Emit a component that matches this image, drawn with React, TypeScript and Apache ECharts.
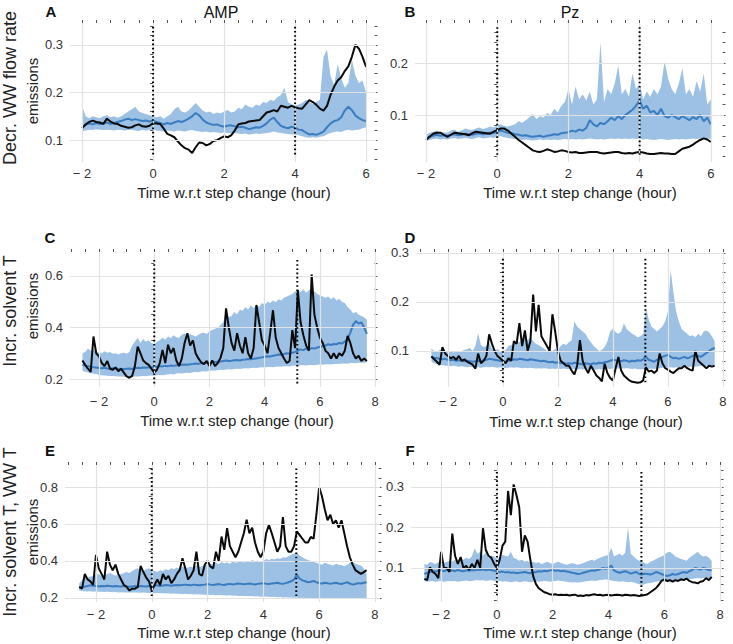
import React, { useEffect, useRef } from "react";
import * as echarts from "echarts";

// ---------- time grids (hours w.r.t. step change, 0.1 h sampling) ----------
const sampleTimes = (start: number, n: number) =>
  Array.from({ length: n }, (_, i) => +(start + i * 0.1).toFixed(1));
const T_AB = sampleTimes(-2.0, 81); // -2.0 .. 6.0
const T_CF = sampleTimes(-2.6, 104); // -2.6 .. 7.7

// ---------- tick labels ----------
const X_TICKS_AB = [-2, 0, 2, 4, 6];
const X_TICKS_CF = [-2, 0, 2, 4, 6, 8];
const Y_TICKS_A = [0.1, 0.2, 0.3];
const Y_TICKS_B = [0.1, 0.2];
const Y_TICKS_C = [0.2, 0.4, 0.6];
const Y_TICKS_D = [0.1, 0.2, 0.3];
const Y_TICKS_E = [0.2, 0.4, 0.6, 0.8];
const Y_TICKS_F = [0.1, 0.2, 0.3];

const COL_TITLES = ["AMP", "Pz"];
const ROW_TITLES = ["Decr. WW flow rate", "Incr. solvent T", "Incr. solvent T, WW T"];
const PANEL_LETTERS = ["A", "B", "C", "D", "E", "F"];
const X_TITLE = "Time w.r.t step change (hour)";
const Y_SUB = "emissions";

// ---------- Panel A (AMP, decr. WW flow rate) ----------
const A_BLACK = [
  0.125, 0.133, 0.138, 0.141, 0.138, 0.137, 0.134, 0.145, 0.139, 0.135,
  0.134, 0.130, 0.128, 0.126, 0.127, 0.131, 0.133, 0.129, 0.128, 0.130,
  0.136, 0.135, 0.134, 0.124, 0.113, 0.110, 0.106, 0.097, 0.089, 0.083,
  0.080, 0.073, 0.085, 0.095, 0.094, 0.089, 0.092, 0.098, 0.100, 0.104,
  0.108, 0.106, 0.110, 0.120, 0.133, 0.135, 0.136, 0.139, 0.140, 0.141,
  0.142, 0.150, 0.158, 0.160, 0.163, 0.160, 0.172, 0.170, 0.168, 0.172,
  0.169, 0.167, 0.166, 0.175, 0.184, 0.180, 0.174, 0.166, 0.162, 0.172,
  0.195, 0.212, 0.225, 0.232, 0.245, 0.255, 0.275, 0.300, 0.292, 0.275,
  0.254,
];
const A_MEAN = [
  0.128, 0.132, 0.135, 0.133, 0.136, 0.134, 0.135, 0.137, 0.134, 0.136,
  0.138, 0.140, 0.143, 0.145, 0.142, 0.144, 0.142, 0.140, 0.141, 0.139,
  0.141, 0.138, 0.136, 0.133, 0.136, 0.134, 0.137, 0.140, 0.138, 0.141,
  0.145, 0.150, 0.157, 0.152, 0.143, 0.137, 0.134, 0.132, 0.133, 0.130,
  0.128, 0.130, 0.131, 0.129, 0.127, 0.128, 0.126, 0.123, 0.125, 0.127,
  0.126, 0.130, 0.135, 0.143, 0.147, 0.138, 0.130, 0.127, 0.125, 0.128,
  0.126, 0.122, 0.121, 0.116, 0.112, 0.113, 0.111, 0.114, 0.118, 0.127,
  0.135, 0.140, 0.142, 0.148, 0.162, 0.170, 0.163, 0.152, 0.146, 0.142,
  0.140,
];
const A_UPPER = [
  0.172, 0.150, 0.146, 0.150, 0.148, 0.146, 0.150, 0.152, 0.148, 0.150,
  0.147, 0.150, 0.155, 0.160, 0.165, 0.170, 0.160, 0.157, 0.155, 0.152,
  0.150, 0.148, 0.150, 0.145, 0.150, 0.155, 0.165, 0.170, 0.160, 0.158,
  0.162, 0.170, 0.178, 0.170, 0.162, 0.158, 0.160, 0.155, 0.158, 0.156,
  0.160, 0.163, 0.158, 0.160, 0.168, 0.165, 0.175, 0.170, 0.168, 0.175,
  0.172, 0.180, 0.178, 0.185, 0.182, 0.190, 0.195, 0.210, 0.180, 0.176,
  0.172, 0.175, 0.178, 0.185, 0.180, 0.176, 0.180, 0.185, 0.275, 0.290,
  0.235, 0.215, 0.260, 0.230, 0.210, 0.220, 0.270, 0.235, 0.220, 0.225,
  0.200,
];
const A_LOWER = [
  0.118, 0.120, 0.122, 0.121, 0.123, 0.122, 0.121, 0.122, 0.121, 0.120,
  0.122, 0.121, 0.120, 0.121, 0.122, 0.120, 0.119, 0.121, 0.120, 0.121,
  0.122, 0.120, 0.119, 0.118, 0.120, 0.119, 0.118, 0.120, 0.119, 0.118,
  0.120, 0.121, 0.119, 0.118, 0.117, 0.118, 0.116, 0.117, 0.116, 0.115,
  0.116, 0.115, 0.114, 0.115, 0.114, 0.113, 0.114, 0.112, 0.113, 0.114,
  0.113, 0.114, 0.115, 0.116, 0.118, 0.116, 0.115, 0.114, 0.113, 0.112,
  0.112, 0.110, 0.108, 0.106, 0.105, 0.106, 0.105, 0.107, 0.108, 0.112,
  0.115, 0.117, 0.118, 0.117, 0.120, 0.122, 0.120, 0.121, 0.122, 0.125,
  0.127,
];

// ---------- Panel B (Pz, decr. WW flow rate) ----------
const B_BLACK = [
  0.052, 0.058, 0.064, 0.066, 0.066, 0.062, 0.058, 0.062, 0.066, 0.065,
  0.064, 0.063, 0.061, 0.065, 0.068, 0.067, 0.066, 0.065, 0.064, 0.068,
  0.071, 0.074, 0.074, 0.070, 0.064, 0.058, 0.052, 0.047, 0.042, 0.037,
  0.032, 0.030, 0.029, 0.031, 0.034, 0.032, 0.029, 0.030, 0.032, 0.031,
  0.029, 0.028, 0.029, 0.027, 0.027, 0.028, 0.029, 0.029, 0.029, 0.027,
  0.026, 0.027, 0.028, 0.029, 0.029, 0.027, 0.026, 0.027, 0.026, 0.028,
  0.029, 0.028, 0.026, 0.025, 0.025, 0.026, 0.027, 0.026, 0.026, 0.025,
  0.025, 0.030, 0.035, 0.037, 0.039, 0.043, 0.048, 0.052, 0.055, 0.053,
  0.048,
];
const B_MEAN = [
  0.055, 0.058, 0.060, 0.062, 0.060, 0.061, 0.060, 0.062, 0.063, 0.061,
  0.062, 0.064, 0.063, 0.062, 0.064, 0.065, 0.063, 0.064, 0.066, 0.065,
  0.068, 0.070, 0.068, 0.066, 0.065, 0.063, 0.062, 0.060, 0.061, 0.059,
  0.058, 0.059, 0.060, 0.058, 0.060, 0.061, 0.063, 0.062, 0.065, 0.066,
  0.067, 0.070, 0.068, 0.072, 0.070, 0.075, 0.090, 0.082, 0.078, 0.085,
  0.082, 0.088, 0.095, 0.090, 0.098, 0.092, 0.100, 0.105, 0.110, 0.118,
  0.128, 0.112, 0.118, 0.105, 0.108, 0.100, 0.112, 0.098, 0.095, 0.100,
  0.096, 0.092, 0.098, 0.094, 0.090, 0.096, 0.092, 0.100, 0.088, 0.095,
  0.082,
];
const B_UPPER = [
  0.062, 0.066, 0.068, 0.070, 0.066, 0.067, 0.066, 0.070, 0.072, 0.068,
  0.070, 0.074, 0.072, 0.071, 0.074, 0.076, 0.073, 0.075, 0.078, 0.076,
  0.080, 0.082, 0.079, 0.078, 0.080, 0.082, 0.088, 0.085, 0.090, 0.095,
  0.102, 0.092, 0.098, 0.095, 0.104, 0.100, 0.112, 0.105, 0.118, 0.125,
  0.150, 0.120, 0.155, 0.130, 0.140, 0.128, 0.145, 0.120, 0.130, 0.240,
  0.125, 0.150, 0.140, 0.160, 0.195, 0.140, 0.150, 0.135, 0.180, 0.150,
  0.160, 0.130, 0.145, 0.135, 0.150, 0.140, 0.155, 0.203, 0.170, 0.150,
  0.140, 0.160, 0.190, 0.140, 0.150, 0.135, 0.165, 0.145, 0.180, 0.120,
  0.130,
];
const B_LOWER = [
  0.050, 0.052, 0.054, 0.055, 0.053, 0.054, 0.053, 0.055, 0.056, 0.054,
  0.055, 0.056, 0.055, 0.054, 0.056, 0.057, 0.055, 0.056, 0.057, 0.056,
  0.058, 0.059, 0.057, 0.056, 0.055, 0.054, 0.053, 0.052, 0.053, 0.052,
  0.051, 0.052, 0.053, 0.052, 0.053, 0.052, 0.053, 0.052, 0.053, 0.054,
  0.053, 0.054, 0.053, 0.054, 0.053, 0.054, 0.055, 0.054, 0.053, 0.054,
  0.053, 0.054, 0.055, 0.054, 0.055, 0.054, 0.055, 0.054, 0.055, 0.054,
  0.055, 0.053, 0.054, 0.053, 0.052, 0.053, 0.054, 0.053, 0.052, 0.053,
  0.054, 0.053, 0.054, 0.053, 0.054, 0.055, 0.054, 0.055, 0.054, 0.055,
  0.054,
];

// ---------- Panel C (AMP, incr. solvent T) ----------
const C_BLACK = [
  0.272, 0.255, 0.240, 0.228, 0.365, 0.300, 0.288, 0.262, 0.250, 0.270,
  0.240, 0.236, 0.245, 0.230, 0.240, 0.225, 0.210, 0.205, 0.212, 0.250,
  0.326, 0.300, 0.272, 0.262, 0.255, 0.240, 0.225, 0.236, 0.262, 0.313,
  0.262, 0.333, 0.300, 0.320, 0.272, 0.250, 0.280, 0.340, 0.378, 0.330,
  0.350, 0.300, 0.280, 0.265, 0.258, 0.270, 0.250, 0.272, 0.250, 0.262,
  0.282, 0.320, 0.474, 0.400, 0.340, 0.310, 0.378, 0.330, 0.300, 0.362,
  0.300, 0.280, 0.320, 0.487, 0.420, 0.350, 0.330, 0.300, 0.380, 0.467,
  0.360, 0.320, 0.300, 0.280, 0.262, 0.270, 0.390, 0.320, 0.545, 0.420,
  0.370, 0.330, 0.310, 0.606, 0.450, 0.400, 0.360, 0.340, 0.310, 0.300,
  0.280, 0.300, 0.280, 0.300, 0.290, 0.310, 0.367, 0.340, 0.300, 0.280,
  0.290, 0.270, 0.280, 0.270,
];
const C_MEAN = [
  0.255, 0.252, 0.250, 0.248, 0.246, 0.245, 0.243, 0.242, 0.244, 0.241,
  0.240, 0.242, 0.241, 0.239, 0.240, 0.238, 0.240, 0.241, 0.239, 0.242,
  0.244, 0.243, 0.245, 0.244, 0.246, 0.245, 0.247, 0.248, 0.250, 0.249,
  0.251, 0.250, 0.252, 0.251, 0.253, 0.254, 0.255, 0.256, 0.255, 0.257,
  0.258, 0.260, 0.259, 0.261, 0.262, 0.264, 0.263, 0.265, 0.266, 0.267,
  0.268, 0.270, 0.272, 0.270, 0.271, 0.273, 0.274, 0.272, 0.275, 0.276,
  0.278, 0.277, 0.279, 0.280, 0.282, 0.284, 0.286, 0.288, 0.287, 0.290,
  0.292, 0.295, 0.293, 0.297, 0.300, 0.298, 0.302, 0.305, 0.310, 0.315,
  0.312, 0.318, 0.315, 0.320, 0.318, 0.322, 0.325, 0.328, 0.330, 0.335,
  0.332, 0.336, 0.335, 0.340, 0.338, 0.345, 0.355, 0.380, 0.410, 0.425,
  0.415, 0.420, 0.400, 0.375,
];
const C_UPPER = [
  0.300, 0.305, 0.318, 0.310, 0.315, 0.302, 0.305, 0.300, 0.308, 0.302,
  0.305, 0.298, 0.300, 0.295, 0.300, 0.302, 0.298, 0.305, 0.330, 0.345,
  0.360, 0.340, 0.355, 0.345, 0.350, 0.340, 0.335, 0.345, 0.350, 0.360,
  0.352, 0.365, 0.358, 0.370, 0.362, 0.360, 0.372, 0.378, 0.368, 0.375,
  0.370, 0.365, 0.372, 0.378, 0.380, 0.375, 0.385, 0.390, 0.395, 0.400,
  0.410, 0.420, 0.470, 0.440, 0.445, 0.460, 0.450, 0.470, 0.465, 0.480,
  0.470, 0.485, 0.475, 0.490, 0.480, 0.495, 0.488, 0.500, 0.495, 0.505,
  0.498, 0.510, 0.505, 0.515, 0.520, 0.525, 0.530, 0.540, 0.545, 0.538,
  0.548, 0.535, 0.545, 0.550, 0.540, 0.530, 0.525, 0.520, 0.515, 0.520,
  0.510, 0.518, 0.505, 0.512, 0.500, 0.495, 0.480, 0.470, 0.455, 0.460,
  0.450, 0.445, 0.440, 0.430,
];
const C_LOWER = [
  0.232, 0.228, 0.225, 0.222, 0.220, 0.219, 0.216, 0.215, 0.214, 0.213,
  0.212, 0.212, 0.211, 0.210, 0.210, 0.209, 0.208, 0.208, 0.209, 0.210,
  0.210, 0.211, 0.212, 0.211, 0.213, 0.214, 0.213, 0.215, 0.216, 0.215,
  0.217, 0.218, 0.219, 0.218, 0.221, 0.222, 0.221, 0.223, 0.224, 0.223,
  0.226, 0.227, 0.226, 0.229, 0.230, 0.229, 0.232, 0.233, 0.232, 0.235,
  0.236, 0.235, 0.237, 0.238, 0.237, 0.239, 0.240, 0.239, 0.241, 0.242,
  0.241, 0.243, 0.244, 0.243, 0.245, 0.246, 0.245, 0.247, 0.247, 0.246,
  0.248, 0.249, 0.248, 0.250, 0.250, 0.249, 0.251, 0.252, 0.251, 0.253,
  0.253, 0.252, 0.254, 0.254, 0.253, 0.255, 0.256, 0.255, 0.257, 0.257,
  0.256, 0.258, 0.259, 0.258, 0.260, 0.260, 0.259, 0.262, 0.262, 0.261,
  0.263, 0.264, 0.263, 0.265,
];

// ---------- Panel D (Pz, incr. solvent T) ----------
const D_BLACK = [
  0.089, 0.083, 0.078, 0.072, 0.108, 0.095, 0.090, 0.085, 0.088, 0.082,
  0.090, 0.080, 0.083, 0.078, 0.075, 0.072, 0.064, 0.095, 0.075, 0.080,
  0.090, 0.134, 0.115, 0.100, 0.090, 0.085, 0.080, 0.075, 0.085, 0.080,
  0.120, 0.115, 0.157, 0.110, 0.142, 0.100, 0.120, 0.215, 0.140, 0.194,
  0.130, 0.120, 0.110, 0.100, 0.175, 0.140, 0.100, 0.080, 0.075, 0.070,
  0.070, 0.060, 0.052, 0.070, 0.122, 0.080, 0.065, 0.055, 0.070, 0.060,
  0.050, 0.045, 0.038, 0.074, 0.055, 0.045, 0.040, 0.065, 0.088, 0.060,
  0.050, 0.045, 0.040, 0.037, 0.036, 0.035, 0.036, 0.040, 0.067, 0.058,
  0.060, 0.055, 0.060, 0.095, 0.075, 0.065, 0.062, 0.058, 0.055, 0.060,
  0.065, 0.065, 0.070, 0.065, 0.062, 0.060, 0.100, 0.080, 0.075, 0.070,
  0.065, 0.070, 0.068, 0.070,
];
const D_MEAN = [
  0.088, 0.086, 0.085, 0.084, 0.083, 0.084, 0.082, 0.081, 0.082, 0.080,
  0.081, 0.080, 0.079, 0.080, 0.079, 0.078, 0.079, 0.080, 0.079, 0.081,
  0.082, 0.084, 0.083, 0.082, 0.081, 0.080, 0.079, 0.078, 0.080, 0.081,
  0.083, 0.082, 0.084, 0.083, 0.082, 0.081, 0.083, 0.082, 0.081, 0.080,
  0.079, 0.080, 0.078, 0.077, 0.078, 0.076, 0.077, 0.075, 0.076, 0.074,
  0.075, 0.074, 0.076, 0.075, 0.074, 0.073, 0.075, 0.074, 0.073, 0.075,
  0.074, 0.076, 0.075, 0.077, 0.078, 0.080, 0.082, 0.081, 0.080, 0.079,
  0.081, 0.080, 0.078, 0.080, 0.079, 0.081, 0.080, 0.083, 0.088, 0.082,
  0.080, 0.078, 0.082, 0.085, 0.088, 0.090, 0.092, 0.088, 0.085, 0.086,
  0.084, 0.086, 0.088, 0.085, 0.087, 0.090, 0.092, 0.090, 0.088, 0.092,
  0.096, 0.100, 0.104, 0.106,
];
const D_UPPER = [
  0.105, 0.100, 0.098, 0.102, 0.105, 0.100, 0.098, 0.100, 0.097, 0.100,
  0.098, 0.100, 0.102, 0.104, 0.106, 0.100, 0.110, 0.136, 0.112, 0.108,
  0.110, 0.118, 0.105, 0.100, 0.104, 0.100, 0.098, 0.102, 0.110, 0.112,
  0.115, 0.120, 0.118, 0.125, 0.130, 0.122, 0.128, 0.120, 0.115, 0.112,
  0.108, 0.105, 0.100, 0.102, 0.100, 0.104, 0.102, 0.110, 0.115, 0.112,
  0.118, 0.122, 0.160, 0.150, 0.145, 0.140, 0.135, 0.125, 0.118, 0.110,
  0.105, 0.100, 0.102, 0.108, 0.120, 0.140, 0.146, 0.138, 0.135, 0.140,
  0.156, 0.145, 0.140, 0.135, 0.132, 0.128, 0.130, 0.135, 0.190, 0.165,
  0.150, 0.145, 0.140, 0.145, 0.150, 0.160, 0.180, 0.265, 0.220, 0.180,
  0.160, 0.145, 0.140, 0.135, 0.130, 0.132, 0.128, 0.135, 0.130, 0.140,
  0.142, 0.138, 0.130, 0.120,
];
const D_LOWER = [
  0.078, 0.075, 0.073, 0.072, 0.071, 0.070, 0.070, 0.069, 0.070, 0.069,
  0.068, 0.069, 0.068, 0.067, 0.068, 0.067, 0.066, 0.067, 0.066, 0.067,
  0.068, 0.067, 0.068, 0.067, 0.066, 0.067, 0.066, 0.065, 0.066, 0.067,
  0.066, 0.067, 0.066, 0.065, 0.066, 0.065, 0.066, 0.065, 0.064, 0.065,
  0.064, 0.065, 0.064, 0.063, 0.064, 0.063, 0.064, 0.063, 0.064, 0.063,
  0.063, 0.064, 0.063, 0.062, 0.063, 0.062, 0.063, 0.062, 0.063, 0.062,
  0.062, 0.063, 0.062, 0.063, 0.064, 0.063, 0.064, 0.065, 0.064, 0.065,
  0.064, 0.065, 0.064, 0.063, 0.064, 0.063, 0.062, 0.063, 0.064, 0.063,
  0.064, 0.063, 0.064, 0.065, 0.066, 0.067, 0.066, 0.067, 0.066, 0.067,
  0.066, 0.067, 0.068, 0.067, 0.068, 0.069, 0.068, 0.069, 0.070, 0.069,
  0.070, 0.069, 0.070, 0.071,
];

// ---------- Panel E (AMP, incr. solvent T, WW T) ----------
const E_BLACK = [
  0.260, 0.250, 0.330, 0.300, 0.290, 0.270, 0.433, 0.360, 0.330, 0.300,
  0.450, 0.380, 0.350, 0.380, 0.330, 0.300, 0.270, 0.260, 0.240, 0.250,
  0.250, 0.260, 0.373, 0.340, 0.310, 0.290, 0.240, 0.270, 0.300, 0.270,
  0.330, 0.300, 0.320, 0.280, 0.300, 0.330, 0.350, 0.415, 0.360, 0.300,
  0.320, 0.350, 0.450, 0.330, 0.320, 0.380, 0.400, 0.370, 0.360, 0.450,
  0.400, 0.532, 0.460, 0.578, 0.480, 0.450, 0.420, 0.450, 0.500, 0.550,
  0.623, 0.550, 0.580, 0.500, 0.450, 0.420, 0.450, 0.550, 0.595, 0.550,
  0.500, 0.450, 0.480, 0.637, 0.480, 0.450, 0.450, 0.480, 0.560, 0.540,
  0.520, 0.500, 0.500, 0.530, 0.520, 0.650, 0.800, 0.750, 0.680, 0.620,
  0.650, 0.600, 0.620, 0.580, 0.620, 0.550, 0.480, 0.420, 0.380, 0.350,
  0.340, 0.330, 0.340, 0.350,
];
const E_MEAN = [
  0.255, 0.258, 0.262, 0.265, 0.268, 0.266, 0.264, 0.262, 0.265, 0.263,
  0.266, 0.264, 0.262, 0.265, 0.263, 0.262, 0.264, 0.262, 0.260, 0.262,
  0.264, 0.262, 0.265, 0.263, 0.262, 0.264, 0.263, 0.266, 0.268, 0.265,
  0.267, 0.270, 0.268, 0.266, 0.268, 0.270, 0.268, 0.270, 0.272, 0.270,
  0.268, 0.272, 0.270, 0.268, 0.270, 0.272, 0.275, 0.272, 0.270, 0.273,
  0.275, 0.272, 0.270, 0.274, 0.276, 0.273, 0.275, 0.278, 0.276, 0.274,
  0.276, 0.278, 0.275, 0.273, 0.276, 0.278, 0.280, 0.277, 0.275, 0.278,
  0.280, 0.282, 0.278, 0.276, 0.280, 0.285, 0.290, 0.300, 0.325, 0.305,
  0.295, 0.290, 0.285, 0.288, 0.292, 0.285, 0.280, 0.278, 0.282, 0.280,
  0.276, 0.280, 0.282, 0.278, 0.275, 0.280, 0.285, 0.278, 0.272, 0.275,
  0.280, 0.278, 0.282, 0.285,
];
const E_UPPER = [
  0.280, 0.295, 0.320, 0.310, 0.315, 0.320, 0.325, 0.330, 0.318, 0.322,
  0.330, 0.335, 0.328, 0.320, 0.325, 0.330, 0.335, 0.340, 0.335, 0.345,
  0.355, 0.360, 0.350, 0.345, 0.355, 0.360, 0.350, 0.345, 0.340, 0.350,
  0.345, 0.355, 0.350, 0.360, 0.355, 0.365, 0.358, 0.370, 0.360, 0.365,
  0.370, 0.362, 0.375, 0.368, 0.372, 0.380, 0.375, 0.385, 0.378, 0.390,
  0.382, 0.395, 0.388, 0.392, 0.385, 0.398, 0.390, 0.395, 0.400, 0.392,
  0.400, 0.395, 0.405, 0.398, 0.402, 0.395, 0.400, 0.410, 0.405, 0.412,
  0.408, 0.415, 0.410, 0.420, 0.418, 0.425, 0.435, 0.440, 0.445, 0.430,
  0.420, 0.410, 0.405, 0.400, 0.395, 0.390, 0.385, 0.380, 0.390, 0.385,
  0.380, 0.375, 0.385, 0.380, 0.378, 0.372, 0.380, 0.390, 0.395, 0.385,
  0.380, 0.375, 0.360, 0.330,
];
const E_LOWER = [
  0.240, 0.238, 0.236, 0.235, 0.236, 0.234, 0.235, 0.233, 0.234, 0.232,
  0.233, 0.232, 0.231, 0.232, 0.230, 0.231, 0.230, 0.229, 0.230, 0.229,
  0.230, 0.229, 0.228, 0.229, 0.228, 0.227, 0.228, 0.226, 0.227, 0.225,
  0.226, 0.224, 0.225, 0.223, 0.224, 0.222, 0.223, 0.221, 0.222, 0.220,
  0.221, 0.219, 0.220, 0.218, 0.219, 0.217, 0.218, 0.216, 0.217, 0.215,
  0.216, 0.214, 0.215, 0.213, 0.214, 0.212, 0.213, 0.211, 0.212, 0.210,
  0.211, 0.209, 0.210, 0.208, 0.209, 0.207, 0.208, 0.206, 0.207, 0.205,
  0.206, 0.204, 0.205, 0.203, 0.204, 0.202, 0.203, 0.201, 0.202, 0.200,
  0.201, 0.199, 0.200, 0.198, 0.199, 0.198, 0.199, 0.197, 0.198, 0.197,
  0.198, 0.196, 0.197, 0.196, 0.197, 0.195, 0.196, 0.195, 0.196, 0.195,
  0.196, 0.195, 0.196, 0.197,
];

// ---------- Panel F (Pz, incr. solvent T, WW T) ----------
const F_BLACK = [
  0.073, 0.070, 0.102, 0.090, 0.085, 0.075, 0.140, 0.100, 0.100, 0.090,
  0.185, 0.130, 0.110, 0.127, 0.100, 0.105, 0.095, 0.110, 0.100, 0.120,
  0.100, 0.198, 0.145, 0.130, 0.125, 0.110, 0.100, 0.120, 0.155, 0.165,
  0.290, 0.230, 0.306, 0.280, 0.250, 0.140, 0.180, 0.165, 0.120, 0.080,
  0.060, 0.050, 0.045, 0.040, 0.038, 0.035, 0.034, 0.035, 0.033, 0.034,
  0.033, 0.034, 0.032, 0.033, 0.034, 0.031, 0.032, 0.031, 0.033, 0.032,
  0.034, 0.035, 0.033, 0.034, 0.032, 0.033, 0.034, 0.032, 0.033, 0.034,
  0.033, 0.032, 0.034, 0.033, 0.032, 0.033, 0.032, 0.031, 0.032, 0.033,
  0.035, 0.040, 0.045, 0.050, 0.058, 0.068, 0.072, 0.068, 0.070, 0.066,
  0.070, 0.068, 0.072, 0.070, 0.074, 0.068, 0.065, 0.064, 0.062, 0.066,
  0.068, 0.075, 0.070, 0.078,
];
const F_MEAN = [
  0.085, 0.088, 0.090, 0.092, 0.091, 0.093, 0.094, 0.092, 0.095, 0.093,
  0.094, 0.092, 0.095, 0.093, 0.092, 0.094, 0.093, 0.095, 0.094, 0.096,
  0.095, 0.097, 0.094, 0.096, 0.095, 0.093, 0.092, 0.090, 0.091, 0.089,
  0.090, 0.088, 0.089, 0.087, 0.088, 0.089, 0.090, 0.088, 0.087, 0.089,
  0.090, 0.092, 0.091, 0.093, 0.092, 0.094, 0.095, 0.093, 0.094, 0.092,
  0.093, 0.091, 0.090, 0.088, 0.087, 0.085, 0.086, 0.088, 0.090, 0.092,
  0.094, 0.093, 0.095, 0.097, 0.100, 0.098, 0.100, 0.106, 0.094, 0.090,
  0.088, 0.090, 0.092, 0.089, 0.086, 0.088, 0.090, 0.085, 0.084, 0.086,
  0.085, 0.084, 0.086, 0.090, 0.088, 0.085, 0.082, 0.080, 0.082, 0.085,
  0.083, 0.085, 0.088, 0.090, 0.088, 0.092, 0.095, 0.100, 0.098, 0.096,
  0.100, 0.098, 0.095, 0.094,
];
const F_UPPER = [
  0.110, 0.108, 0.115, 0.112, 0.110, 0.114, 0.118, 0.112, 0.115, 0.118,
  0.115, 0.120, 0.118, 0.122, 0.120, 0.125, 0.122, 0.128, 0.148, 0.135,
  0.140, 0.130, 0.138, 0.125, 0.130, 0.128, 0.122, 0.125, 0.132, 0.130,
  0.128, 0.140, 0.125, 0.122, 0.118, 0.120, 0.115, 0.118, 0.112, 0.115,
  0.112, 0.114, 0.110, 0.112, 0.115, 0.112, 0.110, 0.113, 0.115, 0.112,
  0.110, 0.108, 0.110, 0.112, 0.110, 0.108, 0.110, 0.112, 0.115, 0.118,
  0.120, 0.118, 0.122, 0.125, 0.128, 0.130, 0.132, 0.150, 0.128, 0.132,
  0.135, 0.130, 0.138, 0.200, 0.135, 0.128, 0.122, 0.118, 0.115, 0.112,
  0.110, 0.115, 0.118, 0.122, 0.125, 0.128, 0.132, 0.138, 0.140, 0.135,
  0.128, 0.125, 0.122, 0.120, 0.118, 0.125, 0.130, 0.135, 0.140, 0.132,
  0.128, 0.130, 0.125, 0.118,
];
const F_LOWER = [
  0.068, 0.066, 0.067, 0.068, 0.066, 0.067, 0.068, 0.066, 0.067, 0.068,
  0.067, 0.068, 0.066, 0.067, 0.068, 0.069, 0.067, 0.068, 0.069, 0.070,
  0.069, 0.070, 0.068, 0.069, 0.070, 0.068, 0.067, 0.068, 0.066, 0.067,
  0.066, 0.065, 0.066, 0.067, 0.065, 0.066, 0.067, 0.066, 0.065, 0.066,
  0.067, 0.066, 0.067, 0.068, 0.067, 0.066, 0.067, 0.068, 0.069, 0.068,
  0.067, 0.066, 0.065, 0.064, 0.065, 0.064, 0.065, 0.066, 0.067, 0.068,
  0.069, 0.068, 0.069, 0.070, 0.071, 0.072, 0.070, 0.069, 0.068, 0.067,
  0.066, 0.067, 0.066, 0.065, 0.066, 0.064, 0.062, 0.060, 0.058, 0.060,
  0.062, 0.063, 0.064, 0.066, 0.067, 0.068, 0.066, 0.065, 0.066, 0.067,
  0.068, 0.069, 0.068, 0.070, 0.071, 0.072, 0.073, 0.074, 0.075, 0.074,
  0.075, 0.076, 0.075, 0.074,
];

// ---------- styling / layout ----------
const FONT = "'Liberation Sans', Arial, Helvetica, sans-serif";
const BAND_COLOR = "#9cc1e5";
const MEAN_COLOR = "#3a7cc0";
const GRID_COLOR = "#e2e2e2";
const TICK_COLOR = "#555";

const tickRange = (a: number, b: number, s: number) => {
  const out: number[] = [];
  for (let v = a; v <= b + 1e-9; v += s) out.push(+v.toFixed(3));
  return out;
};

type Panel = {
  t: number[];
  black: number[];
  mean: number[];
  upper: number[];
  lower: number[];
  left: number;
  top: number;
  width: number;
  height: number;
  xMin: number;
  xMax: number;
  yMin: number;
  yMax: number;
  xTicks: number[];
  xMinor: number[];
  yTicks: number[];
  yMinor: number[];
  vlines: number[];
  vTop: number;
  vBot: number;
  labelMargin: number;
};

const PANELS: Panel[] = [
  {
    t: T_AB, black: A_BLACK, mean: A_MEAN, upper: A_UPPER, lower: A_LOWER,
    left: 70, top: 23, width: 306, height: 139,
    xMin: -2.34, xMax: 6.28, yMin: 0.054, yMax: 0.346,
    xTicks: X_TICKS_AB, xMinor: tickRange(-2, 6, 0.4),
    yTicks: Y_TICKS_A, yMinor: tickRange(0.06, 0.34, 0.02),
    vlines: [0, 4], vTop: 0.338, vBot: 0.066, labelMargin: 5,
  },
  {
    t: T_AB, black: B_BLACK, mean: B_MEAN, upper: B_UPPER, lower: B_LOWER,
    left: 415, top: 23, width: 309, height: 139,
    xMin: -2.31, xMax: 6.37, yMin: 0.0096, yMax: 0.277,
    xTicks: X_TICKS_AB, xMinor: tickRange(-2, 6, 0.4),
    yTicks: Y_TICKS_B, yMinor: tickRange(0.02, 0.26, 0.02),
    vlines: [0, 4], vTop: 0.269, vBot: 0.021, labelMargin: 5,
  },
  {
    t: T_CF, black: C_BLACK, mean: C_MEAN, upper: C_UPPER, lower: C_LOWER,
    left: 70, top: 252, width: 306, height: 135,
    xMin: -3.05, xMax: 8.03, yMin: 0.169, yMax: 0.693,
    xTicks: X_TICKS_CF, xMinor: tickRange(-3, 8, 0.5),
    yTicks: Y_TICKS_C, yMinor: tickRange(0.2, 0.65, 0.05),
    vlines: [0, 5.18], vTop: 0.662, vBot: 0.18, labelMargin: 8,
  },
  {
    t: T_CF, black: D_BLACK, mean: D_MEAN, upper: D_UPPER, lower: D_LOWER,
    left: 416, top: 252, width: 308, height: 135,
    xMin: -3.16, xMax: 8.04, yMin: 0.0265, yMax: 0.302,
    xTicks: X_TICKS_CF, xMinor: tickRange(-3, 8, 0.5),
    yTicks: Y_TICKS_D, yMinor: tickRange(0.04, 0.3, 0.02),
    vlines: [0, 5.18], vTop: 0.288, vBot: 0.035, labelMargin: 8,
  },
  {
    t: T_CF, black: E_BLACK, mean: E_MEAN, upper: E_UPPER, lower: E_LOWER,
    left: 65, top: 465, width: 315, height: 137,
    xMin: -3.11, xMax: 8.18, yMin: 0.178, yMax: 0.919,
    xTicks: X_TICKS_CF, xMinor: tickRange(-3, 8, 0.5),
    yTicks: Y_TICKS_E, yMinor: tickRange(0.2, 0.9, 0.05),
    vlines: [0, 5.18], vTop: 0.9, vBot: 0.205, labelMargin: 6,
  },
  {
    t: T_CF, black: F_BLACK, mean: F_MEAN, upper: F_UPPER, lower: F_LOWER,
    left: 411, top: 465, width: 311, height: 137,
    xMin: -3.08, xMax: 8.07, yMin: 0.016, yMax: 0.354,
    xTicks: X_TICKS_CF, xMinor: tickRange(-3, 8, 0.5),
    yTicks: Y_TICKS_F, yMinor: tickRange(0.02, 0.34, 0.02),
    vlines: [0, 5.18], vTop: 0.337, vBot: 0.028, labelMargin: 6,
  },
];

const LETTER_POS = [[51, 11], [410, 11], [50, 237], [410, 237], [50, 450], [410, 450]];
const COL_TITLE_POS = [[221, 12], [570, 12]];
const ROW_TITLE_POS = [[10, 88], [10, 311], [10, 532]];
const ROW_SUB_POS = [[32, 91], [32, 306], [32, 532]];
const X_TITLE_POS = [[234, 192], [580, 192], [237, 420], [586, 421], [234, 632], [580, 632]];

const fmtX = (v: number) => (v < 0 ? "\u2212 " + Math.abs(v) : String(v));
const fmtY = (v: number) => v.toFixed(1);

function bandRenderItem(params: any, api: any) {
  if (params.dataIndexInside !== 0) return null;
  const n = params.dataInsideLength;
  const top: number[][] = [];
  const bot: number[][] = [];
  for (let j = 0; j < n; j++) {
    const t = api.value(0, j);
    top.push(api.coord([t, api.value(2, j)]));
    bot.push(api.coord([t, api.value(1, j)]));
  }
  return {
    type: "polygon",
    silent: true,
    shape: { points: top.concat(bot.reverse()) },
    style: { fill: BAND_COLOR, stroke: null },
  };
}

function buildOption() {
  const grid: any[] = [];
  const xAxis: any[] = [];
  const yAxis: any[] = [];
  const series: any[] = [];

  PANELS.forEach((p, i) => {
    grid.push({ left: p.left, top: p.top, width: p.width, height: p.height, containLabel: false });
    // bottom main axis: labels
    xAxis.push({
      type: "value", gridIndex: i, position: "bottom", min: p.xMin, max: p.xMax,
      axisLine: { show: false },
      axisTick: { show: false, customValues: p.xTicks },
      axisLabel: {
        customValues: p.xTicks, formatter: fmtX, margin: p.labelMargin,
        fontSize: 13, color: "#333", fontFamily: FONT,
      },
      splitLine: { show: false },
    });
    // top minor ticks
    xAxis.push({
      type: "value", gridIndex: i, position: "top", min: p.xMin, max: p.xMax,
      axisLine: { show: false },
      axisTick: { show: true, customValues: p.xMinor, length: 3, lineStyle: { color: TICK_COLOR, width: 1 } },
      axisLabel: { show: false },
      splitLine: { show: false },
    });
    // left main axis: labels
    yAxis.push({
      type: "value", gridIndex: i, position: "left", min: p.yMin, max: p.yMax,
      axisLine: { show: false },
      axisTick: { show: false, customValues: p.yTicks },
      axisLabel: {
        customValues: p.yTicks, formatter: fmtY, margin: 7,
        fontSize: 13, color: "#333", fontFamily: FONT,
      },
      splitLine: { show: false },
    });
    // left minor ticks
    yAxis.push({
      type: "value", gridIndex: i, position: "left", offset: -1.5, min: p.yMin, max: p.yMax,
      axisLine: { show: false },
      axisTick: { show: true, customValues: p.yMinor, length: 3, lineStyle: { color: TICK_COLOR, width: 1 } },
      axisLabel: { show: false },
      splitLine: { show: false },
    });
    // right minor ticks
    yAxis.push({
      type: "value", gridIndex: i, position: "right", offset: -1.5, min: p.yMin, max: p.yMax,
      axisLine: { show: false },
      axisTick: { show: true, customValues: p.yMinor, length: 3, lineStyle: { color: TICK_COLOR, width: 1 } },
      axisLabel: { show: false },
      splitLine: { show: false },
    });

    const xi = 2 * i;
    const yi = 3 * i;
    const pts = (arr: number[]) => p.t.map((t, k) => [t, arr[k]]);

    // grid lines at the labelled ticks
    series.push({
      type: "line", xAxisIndex: xi, yAxisIndex: yi, data: [], z: 1, silent: true,
      markLine: {
        silent: true, symbol: ["none", "none"], animation: false,
        label: { show: false },
        lineStyle: { color: GRID_COLOR, width: 1.2, type: "solid" },
        emphasis: { disabled: true },
        data: [
          ...p.xTicks.map((v) => ({ xAxis: v })),
          ...p.yTicks.map((v) => ({ yAxis: v })),
        ],
      },
    });
    // uncertainty band
    series.push({
      type: "custom", xAxisIndex: xi, yAxisIndex: yi, z: 2, silent: true, clip: true,
      data: p.t.map((t, k) => [t, p.lower[k], p.upper[k]]),
      encode: { x: 0, y: [1, 2] },
      renderItem: bandRenderItem,
    });
    series.push({
      type: "line", xAxisIndex: xi, yAxisIndex: yi, data: pts(p.mean),
      symbol: "none", showSymbol: false, silent: true, z: 3,
      lineStyle: { color: MEAN_COLOR, width: 2 },
    });
    series.push({
      type: "line", xAxisIndex: xi, yAxisIndex: yi, data: pts(p.black),
      symbol: "none", showSymbol: false, silent: true, z: 4,
      lineStyle: { color: "#0a0a0a", width: 2 },
    });
    p.vlines.forEach((v) => {
      series.push({
        type: "line", xAxisIndex: xi, yAxisIndex: yi,
        data: [[v, p.vTop], [v, p.vBot]],
        symbol: "none", showSymbol: false, silent: true, z: 5,
        lineStyle: { color: "#000", width: 2, type: [1.6, 2.6], cap: "butt" },
      });
    });
  });

  const graphic: any[] = [];
  PANEL_LETTERS.forEach((L, i) => {
    graphic.push({
      type: "text", x: LETTER_POS[i][0], y: LETTER_POS[i][1], silent: true,
      style: {
        text: L, fill: "#111", font: `bold 15px ${FONT}`,
        textAlign: "center", textVerticalAlign: "middle",
      },
    });
    graphic.push({
      type: "text", x: X_TITLE_POS[i][0], y: X_TITLE_POS[i][1], silent: true,
      style: {
        text: X_TITLE, fill: "#222", font: `15px ${FONT}`,
        textAlign: "center", textVerticalAlign: "middle",
      },
    });
  });
  COL_TITLES.forEach((s, i) => {
    graphic.push({
      type: "text", x: COL_TITLE_POS[i][0], y: COL_TITLE_POS[i][1], silent: true,
      style: {
        text: s, fill: "#111", font: `16px ${FONT}`,
        textAlign: "center", textVerticalAlign: "middle",
      },
    });
  });
  ROW_TITLES.forEach((s, i) => {
    graphic.push({
      type: "text", x: ROW_TITLE_POS[i][0], y: ROW_TITLE_POS[i][1], rotation: Math.PI / 2, silent: true,
      style: {
        text: s, fill: "#222", font: `18px ${FONT}`,
        textAlign: "center", textVerticalAlign: "middle",
      },
    });
    graphic.push({
      type: "text", x: ROW_SUB_POS[i][0], y: ROW_SUB_POS[i][1], rotation: Math.PI / 2, silent: true,
      style: {
        text: Y_SUB, fill: "#222", font: `15px ${FONT}`,
        textAlign: "center", textVerticalAlign: "middle",
      },
    });
  });

  return {
    animation: false,
    backgroundColor: "#ffffff",
    textStyle: { fontFamily: FONT },
    grid, xAxis, yAxis, series, graphic,
  };
}

export default function App() {
  const ref = useRef<HTMLDivElement>(null);
  useEffect(() => {
    if (!ref.current) return;
    const chart = echarts.init(ref.current, undefined, { renderer: "svg" });
    chart.setOption(buildOption() as any);
    return () => chart.dispose();
  }, []);
  return (
    <div
      ref={ref}
      style={{ position: "absolute", left: 0, top: 0, width: 733, height: 644, background: "#fff" }}
    />
  );
}
